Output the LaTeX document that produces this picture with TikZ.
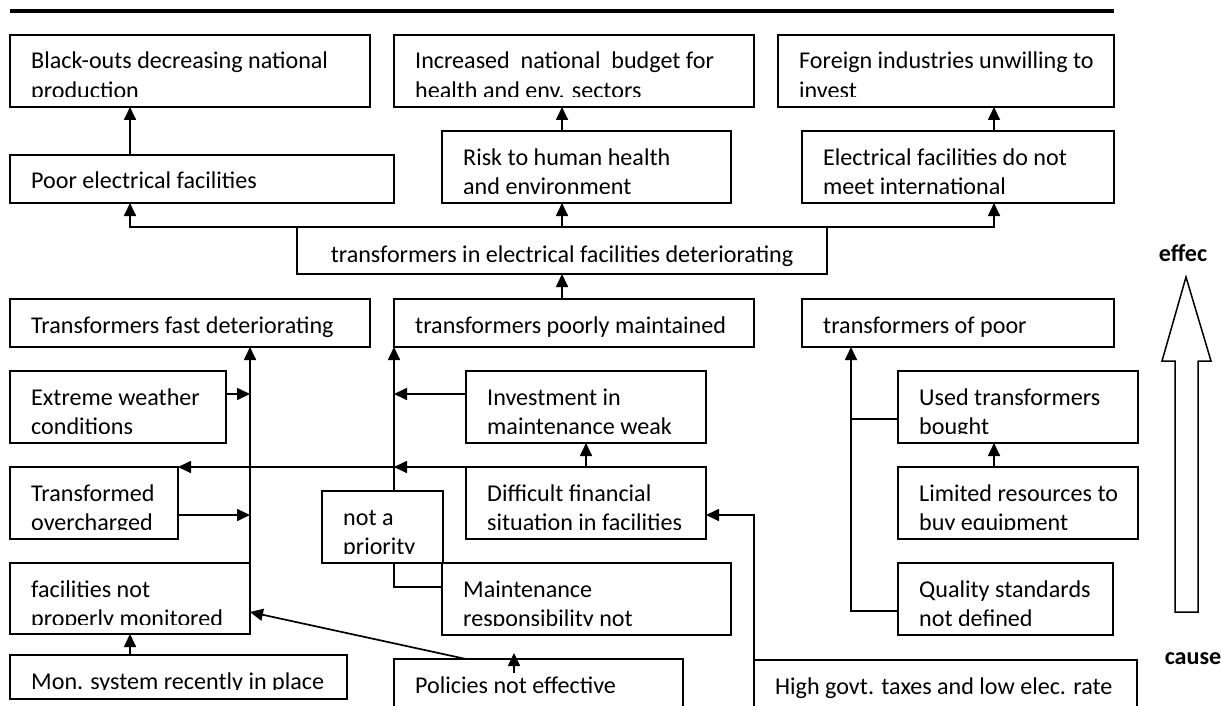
\documentclass[tikz,border=0pt]{standalone}
\usepackage{fontspec}
\setmainfont{Carlito}
\usetikzlibrary{arrows.meta,fit}

\tikzset{
  cell/.style={draw, line width=1.7pt, inner sep=0pt, outer sep=0pt},
  lbl/.style={font=\fontsize{24.1}{29.2}\selectfont, inner sep=0pt, anchor=base west},
  arr/.style={line width=1.7pt, -{Triangle[length=13pt,width=12pt]}},
  link/.style={line width=1.7pt},
  tag/.style={font=\fontsize{24.1}{29.2}\selectfont\bfseries, inner sep=0pt, anchor=base},
}

% box given by its corners; text set from the top left, cut off near the bottom
\newcommand\cellbox[6]{%
  \node[cell, fit={(#2,#3) (#4,#5)}] (#1) {};
  \begin{scope}
    \clip (#1.north west) rectangle ([yshift=10pt]#1.south east);
    \node[lbl] at ([xshift=21pt,yshift=-34pt]#1.north west)
      {\begin{tabular}[t]{@{}l@{}}#6\end{tabular}};
  \end{scope}}

\begin{document}
\begin{tikzpicture}[x=1pt,y=-1pt]
\clip (0,0) rectangle (1221,706);

% heading rule
\draw[line width=3.5pt] (10,11) -- (1114,11);

% effects
\cellbox{blackouts}{10}{35}{370}{107}{Black-outs decreasing national\\production}
\cellbox{increased}{394}{35}{754}{107}{Increased\ \ national\ \ budget for\\health and env. sectors}
\cellbox{foreign}{778}{35}{1114}{107}{Foreign industries unwilling to\\invest}
\cellbox{poor}{10}{155}{394}{203}{Poor electrical facilities}
\cellbox{risk}{442}{131}{731}{203}{Risk to human health\\and environment}
\cellbox{elec}{802}{131}{1114}{203}{Electrical facilities do not\\meet international}

% core problem
\node[cell, fit={(297,227) (827,274)}] (central) {};
\node[lbl, anchor=base] at ([yshift=-35pt]central.north)
  {transformers in electrical facilities deteriorating};

% causes
\cellbox{fastdet}{10}{299}{370}{347}{Transformers fast deteriorating}
\cellbox{poorlymaint}{394}{299}{754}{347}{transformers poorly maintained}
\cellbox{poorq}{802}{299}{1114}{347}{transformers of poor}
\cellbox{extreme}{10}{371}{226}{443}{Extreme weather\\conditions}
\cellbox{invest}{466}{371}{706}{443}{Investment in\\maintenance weak}
\cellbox{used}{898}{371}{1138}{443}{Used transformers\\bought}
\cellbox{overch}{10}{467}{178}{539}{Transformed\\overcharged}
\cellbox{difficult}{466}{467}{706}{539}{Difficult financial\\situation in facilities}
\cellbox{limited}{898}{467}{1138}{539}{Limited resources to\\buy equipment}
\cellbox{notprio}{322}{491}{443}{563}{not a\\priority}
\cellbox{facilities}{10}{563}{250}{634}{facilities not\\properly monitored}
\cellbox{maint}{442}{563}{731}{635}{Maintenance\\responsibility not}
\cellbox{quality}{898}{563}{1113}{635}{Quality standards\\not defined}
\cellbox{mon}{10}{655}{347}{699}{Mon. system recently in place}
\cellbox{policies}{394}{659}{683}{722}{Policies not effective}
\cellbox{highgovt}{754}{660}{1137}{722}{High govt. taxes and low elec. rate}

% upper links
\draw[arr] (130,0 |- poor.north) -- (130,0 |- blackouts.south);
\draw[arr] (562,0 |- risk.north) -- (562,0 |- increased.south);
\draw[arr] (994,0 |- elec.north) -- (994,0 |- foreign.south);
\draw[arr] (562,0 |- central.north) -| (130,0 |- poor.south);
\draw[arr] (562,0 |- central.north) -| (994,0 |- elec.south);
\draw[arr] (562,0 |- central.north) -- (562,0 |- risk.south);
\draw[arr] (562,0 |- poorlymaint.north) -- (562,0 |- central.south);

% left branch
\draw[arr] (facilities.north east) -- (fastdet.south -| facilities.east);
\draw[arr] (extreme.east |- 0,394) -- (facilities.east |- 0,394);
\draw[arr] (overch.east |- 0,515) -- (facilities.east |- 0,515);
\draw[arr] (130,0 |- mon.north) -- (130,0 |- facilities.south);
\draw[arr] (466,0 |- policies.north) -- (facilities.east |- 0,612);

% middle branch
\draw[arr] (difficult.north west) -- (overch.north east);
\draw[arr] (difficult.north west) -- (poorlymaint.south west |- difficult.north);
\draw[arr] (586,0 |- difficult.north) -- (586,0 |- invest.south);
\draw[arr] (invest.west |- 0,394) -- (poorlymaint.south west |- 0,394);
\draw[arr] (poorlymaint.south west |- notprio.north) -- (poorlymaint.south west);
\draw[link] (poorlymaint.south west |- notprio.south) |- (maint.west |- 0,587);
\coordinate (polfoot) at (514,673);
\coordinate (polhead) at (514,653);
\draw[arr] (polfoot) -- (polhead);
\draw[arr] (highgovt.north west) -- (highgovt.north west |- 0,515) -- (difficult.east |- 0,515);

% right branch
\draw[arr] (quality.west |- 0,611) -| (851,0 |- poorq.south);
\draw[link] (used.west |- 0,419) -- (851,419);
\draw[arr] (994,0 |- limited.north) -- (994,0 |- used.south);

% cause-to-effect direction arrow
\draw[line width=1.5pt, line join=miter] (1175,612) -- (1175,361) -- (1162,361) -- (1186,277)
  -- (1211,361) -- (1198,361) -- (1198,612) -- cycle;
\node[tag] (effect) at (1183,261) {effec};
\node[tag] (cause) at (1193,664) {cause};
\end{tikzpicture}
\end{document}
